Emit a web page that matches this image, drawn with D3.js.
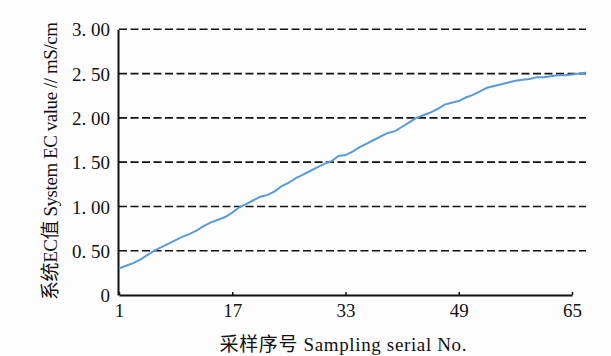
<!DOCTYPE html>
<html>
<head>
<meta charset="utf-8">
<script src="https://cdn.jsdelivr.net/npm/d3@7"></script>
<style>
  body { margin: 0; background: #fdfdfd; }
  svg text { font-family: "Liberation Serif", "Noto Sans CJK SC", serif; fill: #111; }
</style>
</head>
<body>
<div id="chart"></div>
<script>
// sample numbers 1..67, EC value in mS/cm
var samples = d3.range(1, 68);
var ecValues = [
  0.30, 0.33, 0.36, 0.40, 0.45, 0.50, 0.54, 0.58, 0.62, 0.66,
  0.69, 0.73, 0.78, 0.82, 0.85, 0.88, 0.93, 0.99, 1.03, 1.07,
  1.11, 1.13, 1.17, 1.23, 1.27, 1.32, 1.36, 1.40, 1.44, 1.48,
  1.51, 1.57, 1.58, 1.62, 1.67, 1.71, 1.75, 1.79, 1.83, 1.85,
  1.90, 1.95, 2.00, 2.03, 2.06, 2.10, 2.15, 2.17, 2.19, 2.23,
  2.26, 2.30, 2.34, 2.36, 2.38, 2.40, 2.42, 2.43, 2.44, 2.46,
  2.46, 2.47, 2.48, 2.48, 2.49, 2.50, 2.51
];
var xTicks = [1, 17, 33, 49, 65];
var yTicks = [0, 0.5, 1, 1.5, 2, 2.5, 3];
var yTickLabels = ["0", "0. 50", "1. 00", "1. 50", "2. 00", "2. 50", "3. 00"];

var svg = d3.select("#chart").append("svg")
  .attr("width", 611)
  .attr("height", 356);

var x = d3.scaleLinear().domain([1, 65]).range([119, 572]);
var y = d3.scaleLinear().domain([0, 3]).range([295, 29.3]);

// dashed grid
svg.selectAll(".grid").data(yTicks.slice(1)).enter().append("line")
  .attr("x1", 119).attr("x2", 586)
  .attr("y1", function(d){ return y(d); })
  .attr("y2", function(d){ return y(d); })
  .attr("stroke", "#111")
  .attr("stroke-width", 1.6)
  .attr("stroke-dasharray", "8,3.5");

// y axis
var yAxis = d3.axisLeft(y).tickValues(yTicks)
  .tickFormat(function(d, i){ return yTickLabels[i]; })
  .tickSize(0).tickPadding(8);
var gy = svg.append("g").attr("transform", "translate(118,0)").call(yAxis);
gy.select(".domain").attr("stroke", "#111").attr("stroke-width", 2);
gy.selectAll("text").attr("font-size", 19).attr("dy", "0.35em");

// x axis
var xAxis = d3.axisBottom(x).tickValues(xTicks).tickSize(-3).tickPadding(9).tickSizeOuter(0);
var gx = svg.append("g").attr("transform", "translate(0,295)").call(xAxis);
gx.select(".domain").attr("stroke", "#111").attr("stroke-width", 2);
gx.selectAll(".tick line").attr("stroke", "#111").attr("stroke-width", 1.5);
gx.selectAll("text").attr("font-size", 19);

// line
var line = d3.line()
  .x(function(d, i){ return x(samples[i]); })
  .y(function(d){ return y(d); });
svg.append("path")
  .datum(ecValues)
  .attr("d", line)
  .attr("fill", "none")
  .attr("stroke", "#5b9bd5")
  .attr("stroke-width", 2);

// axis titles
svg.append("text")
  .attr("x", 343).attr("y", 351)
  .attr("text-anchor", "middle")
  .attr("font-size", 19)
  .attr("textLength", 247)
  .text("采样序号 Sampling serial No.");

svg.append("text")
  .attr("transform", "translate(57,161) rotate(-90)")
  .attr("text-anchor", "middle")
  .attr("font-size", 19)
  .attr("textLength", 278)
  .text("系统EC值 System EC value // mS/cm");
</script>
</body>
</html>
